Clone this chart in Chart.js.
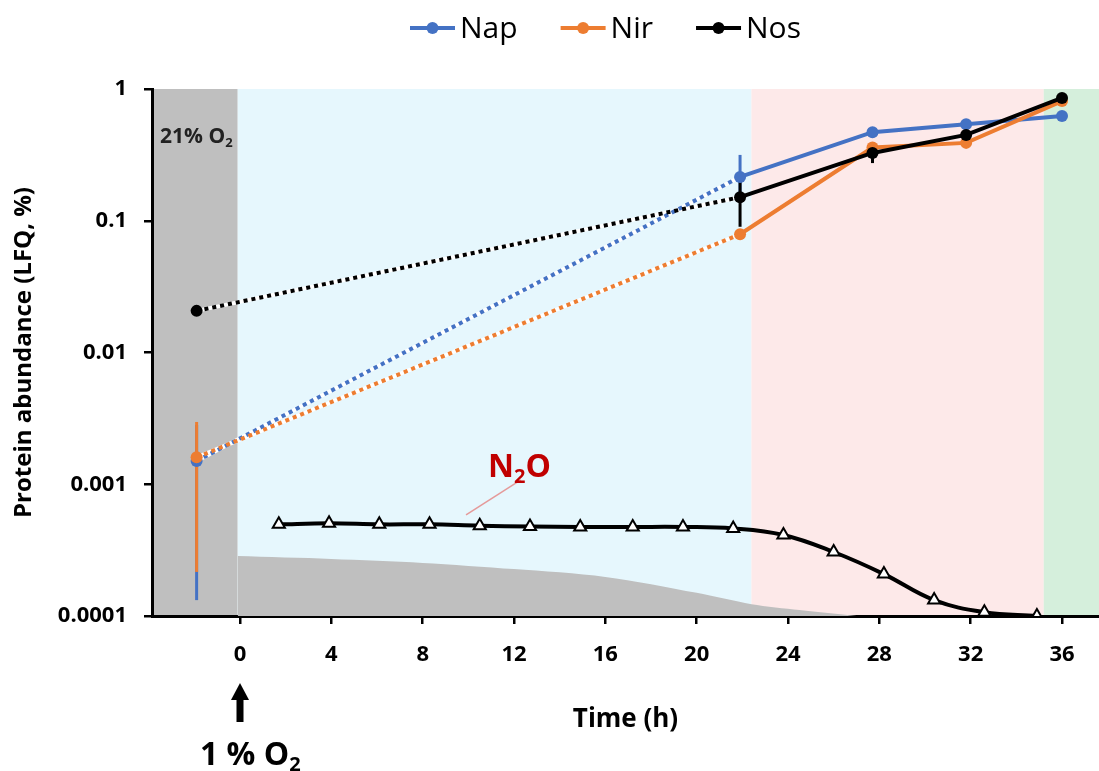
<!DOCTYPE html>
<html>
<head>
<meta charset="utf-8">
<script src="https://cdn.jsdelivr.net/npm/chart.js@4.4.1/dist/chart.umd.min.js"></script>
<style>
  html, body { margin: 0; padding: 0; background: #fff; }
  #wrap { width: 1099px; height: 771px; }
</style>
</head>
<body>
<div id="wrap"><canvas id="myChart" width="1099" height="771"></canvas></div>
<script>
//========================= Data ==================================//

const timePoints = [-1.9, 21.9, 27.7, 31.8, 36];
const napValues = [0.0015, 0.215, 0.47, 0.54, 0.625];
const nirValues = [0.0016, 0.079, 0.36, 0.39, 0.81];
const nosValues = [0.0207, 0.151, 0.327, 0.448, 0.855];

// error bars [low, high] per point, null = none
const napErrors = [[0.000132, 0.00282], [0.15, 0.316], null, null, null];
const nirErrors = [[0.000216, 0.00297], null, null, null, null];
const nosErrors = [null, [0.09, 0.21], [0.274, 0.36], null, null];

const n2oTime = [1.7, 3.9, 6.1, 8.3, 10.5, 12.7, 14.9, 17.2, 19.4, 21.6, 23.8, 26.0, 28.2, 30.4, 32.6, 34.9];
const n2oValues = [0.000496, 0.000505, 0.000496, 0.000496, 0.000485, 0.000478, 0.000474, 0.000474, 0.000474, 0.000462,
  0.000412, 0.000306, 0.000208, 0.000132, 0.000107, 0.0001];

const o2Time = [-0.1, 4, 8, 12, 16, 20, 22.4, 24.5, 27];
const o2Values = [0.000285, 0.000271, 0.000253, 0.000227, 0.000198, 0.00015, 0.000123, 0.000111, 0.0001];

const bandEdges = [-0.1, 22.4, 35.2];
const bandColors = ['#bfbfbf', '#e6f7fd', '#fde9e9', '#d5efdc'];

const xTicks = [0, 4, 8, 12, 16, 20, 24, 28, 32, 36];
const yTicks = [1, 0.1, 0.01, 0.001, 0.0001];
const yTickLabels = ['1', '0.1', '0.01', '0.001', '0.0001'];

const seriesNames = ['Nap', 'Nir', 'Nos'];
const seriesColors = ['#4472c4', '#ed7d31', '#000000'];

const FONT = "'Open Sans', sans-serif";

/***************************************************************
* Helpers
****************************************************************/
function toPoints(xs, ys) {
  return xs.map((x, i) => ({ x: x, y: ys[i] }));
}

function mainSeries(label, values, color, order) {
  return {
    label: label,
    data: toPoints(timePoints, values),
    borderColor: color,
    backgroundColor: color,
    borderWidth: 4,
    pointRadius: 6,
    pointHoverRadius: 6,
    pointBorderWidth: 0,
    pointBackgroundColor: color,
    segment: {
      borderDash: ctx => ctx.p0DataIndex === 0 ? [4, 4] : undefined
    },
    order: order
  };
}

// white line under the dotted part so the gaps look white
function underlay(values, order) {
  return {
    label: '_under',
    data: toPoints(timePoints.slice(0, 2), values.slice(0, 2)),
    borderColor: '#ffffff',
    borderWidth: 4,
    pointRadius: 0,
    order: order
  };
}

function drawSubText(ctx, parts, x, y, size, color) {
  ctx.fillStyle = color;
  ctx.textAlign = 'left';
  ctx.textBaseline = 'alphabetic';
  let cx = x;
  parts.forEach(p => {
    const s = p.sub ? Math.round(size * 0.62) : size;
    ctx.font = 'bold ' + s + 'px ' + FONT;
    ctx.fillText(p.t, cx, p.sub ? y + size * 0.18 : y);
    cx += ctx.measureText(p.t).width;
  });
}

/***************************************************************
* Plugins
****************************************************************/
const bandsPlugin = {
  id: 'bands',
  beforeDraw(chart) {
    const { ctx, chartArea } = chart;
    const xs = chart.scales.x;
    const edges = [chartArea.left].concat(bandEdges.map(v => xs.getPixelForValue(v)), [chartArea.right]);
    ctx.save();
    for (let i = 0; i < bandColors.length; i++) {
      ctx.fillStyle = bandColors[i];
      ctx.fillRect(edges[i], chartArea.top, edges[i + 1] - edges[i], chartArea.bottom - chartArea.top);
    }
    ctx.restore();
  }
};

const errorBarsPlugin = {
  id: 'errorBars',
  beforeDatasetsDraw(chart) {
    const { ctx } = chart;
    const xs = chart.scales.x, ys = chart.scales.y;
    const all = [napErrors, nirErrors, nosErrors];
    ctx.save();
    ctx.lineWidth = 3;
    all.forEach((errs, s) => {
      ctx.strokeStyle = seriesColors[s];
      errs.forEach((e, i) => {
        if (!e) return;
        const px = xs.getPixelForValue(timePoints[i]);
        ctx.beginPath();
        ctx.moveTo(px, ys.getPixelForValue(e[0]));
        ctx.lineTo(px, ys.getPixelForValue(e[1]));
        ctx.stroke();
      });
    });
    ctx.restore();
  }
};

const labelsPlugin = {
  id: 'labels',
  afterDraw(chart) {
    const { ctx, chartArea } = chart;
    const xs = chart.scales.x, ys = chart.scales.y;
    ctx.save();

    // legend
    ctx.font = '30px ' + FONT;
    ctx.textBaseline = 'middle';
    let lx = 410;
    const ly = 28;
    seriesNames.forEach((name, i) => {
      ctx.strokeStyle = seriesColors[i];
      ctx.fillStyle = seriesColors[i];
      ctx.lineWidth = 4;
      ctx.beginPath();
      ctx.moveTo(lx, ly);
      ctx.lineTo(lx + 45, ly);
      ctx.stroke();
      ctx.beginPath();
      ctx.arc(lx + 22.5, ly, 6, 0, Math.PI * 2);
      ctx.fill();
      ctx.fillStyle = '#000';
      ctx.textAlign = 'left';
      ctx.fillText(name, lx + 50, ly + 1);
      lx += 50 + ctx.measureText(name).width + 43;
    });

    // 21% O2
    drawSubText(ctx, [{ t: '21% O' }, { t: '2', sub: true }],
      xs.getPixelForValue(-3.5), ys.getPixelForValue(0.39), 21, '#222');

    // N2O label + leader
    ctx.strokeStyle = '#e59a9a';
    ctx.lineWidth = 1.5;
    ctx.beginPath();
    ctx.moveTo(xs.getPixelForValue(12.3), ys.getPixelForValue(0.00108));
    ctx.lineTo(xs.getPixelForValue(9.9), ys.getPixelForValue(0.000585));
    ctx.stroke();
    drawSubText(ctx, [{ t: 'N' }, { t: '2', sub: true }, { t: 'O' }],
      xs.getPixelForValue(10.86), ys.getPixelForValue(0.00113), 32, '#c00000');

    // arrow + 1 % O2
    const ax = xs.getPixelForValue(0);
    const b = chartArea.bottom;
    ctx.fillStyle = '#000';
    ctx.fillRect(ax - 3.5, b + 82, 7, 24);
    ctx.beginPath();
    ctx.moveTo(ax, b + 67);
    ctx.lineTo(ax + 9, b + 84);
    ctx.lineTo(ax - 9, b + 84);
    ctx.closePath();
    ctx.fill();
    drawSubText(ctx, [{ t: '1 % O' }, { t: '2', sub: true }], ax - 40, b + 149, 32, '#000');

    ctx.restore();
  }
};

/***************************************************************
* Chart
****************************************************************/
const ctx = document.getElementById('myChart').getContext('2d');

const myChart = new Chart(ctx, {
  type: 'line',
  data: {
    datasets: [
      mainSeries('Nap', napValues, seriesColors[0], 3),
      mainSeries('Nir', nirValues, seriesColors[1], 2),
      mainSeries('Nos', nosValues, seriesColors[2], 1),
      underlay(napValues, 6),
      underlay(nirValues, 6),
      underlay(nosValues, 6),
      {
        label: 'N2O',
        data: toPoints(n2oTime, n2oValues),
        borderColor: '#000',
        borderWidth: 4,
        tension: 0.4,
        pointStyle: 'triangle',
        pointRadius: 7,
        pointHoverRadius: 7,
        pointBackgroundColor: '#fff',
        pointBorderColor: '#000',
        pointBorderWidth: 2,
        order: 4
      },
      {
        label: 'O2',
        data: toPoints(o2Time, o2Values),
        borderWidth: 0,
        pointRadius: 0,
        backgroundColor: '#bfbfbf',
        fill: 'start',
        tension: 0.3,
        order: 10
      }
    ]
  },
  options: {
    responsive: false,
    animation: false,
    events: [],
    layout: { autoPadding: false, padding: { top: 89, right: 0, left: 0, bottom: 0 } },
    plugins: {
      legend: { display: false },
      tooltip: { enabled: false }
    },
    scales: {
      x: {
        type: 'linear',
        min: -3.854,
        max: 37.62,
        afterBuildTicks: axis => { axis.ticks = xTicks.map(v => ({ value: v })); },
        afterFit: axis => { axis.height = 155; },
        grid: { drawOnChartArea: false, drawTicks: true, tickLength: 8, color: '#000', lineWidth: 2.5 },
        border: { display: true, color: '#000', width: 3 },
        ticks: { color: '#000', padding: 18, font: { family: FONT, size: 22, weight: 'bold' } },
        title: {
          display: true,
          text: 'Time (h)',
          color: '#000',
          font: { family: FONT, size: 26, weight: 'bold' },
          padding: { top: 0, bottom: 36 }
        }
      },
      y: {
        type: 'logarithmic',
        min: 0.0001,
        max: 1,
        afterBuildTicks: axis => { axis.ticks = yTicks.map(v => ({ value: v })); },
        afterFit: axis => { axis.width = 152; },
        grid: { drawOnChartArea: false, drawTicks: true, tickLength: 8, color: '#000', lineWidth: 2.5 },
        border: { display: true, color: '#000', width: 3 },
        ticks: {
          color: '#000',
          padding: 17,
          font: { family: FONT, size: 22, weight: 'bold' },
          callback: (v) => {
            const i = yTicks.indexOf(v);
            return i >= 0 ? yTickLabels[i] : '';
          }
        },
        title: {
          display: true,
          text: 'Protein abundance (LFQ, %)',
          color: '#000',
          font: { family: FONT, size: 24, weight: 'bold' },
          padding: { top: 10, bottom: 0 }
        }
      }
    }
  },
  plugins: [bandsPlugin, errorBarsPlugin, labelsPlugin]
});
</script>
</body>
</html>
